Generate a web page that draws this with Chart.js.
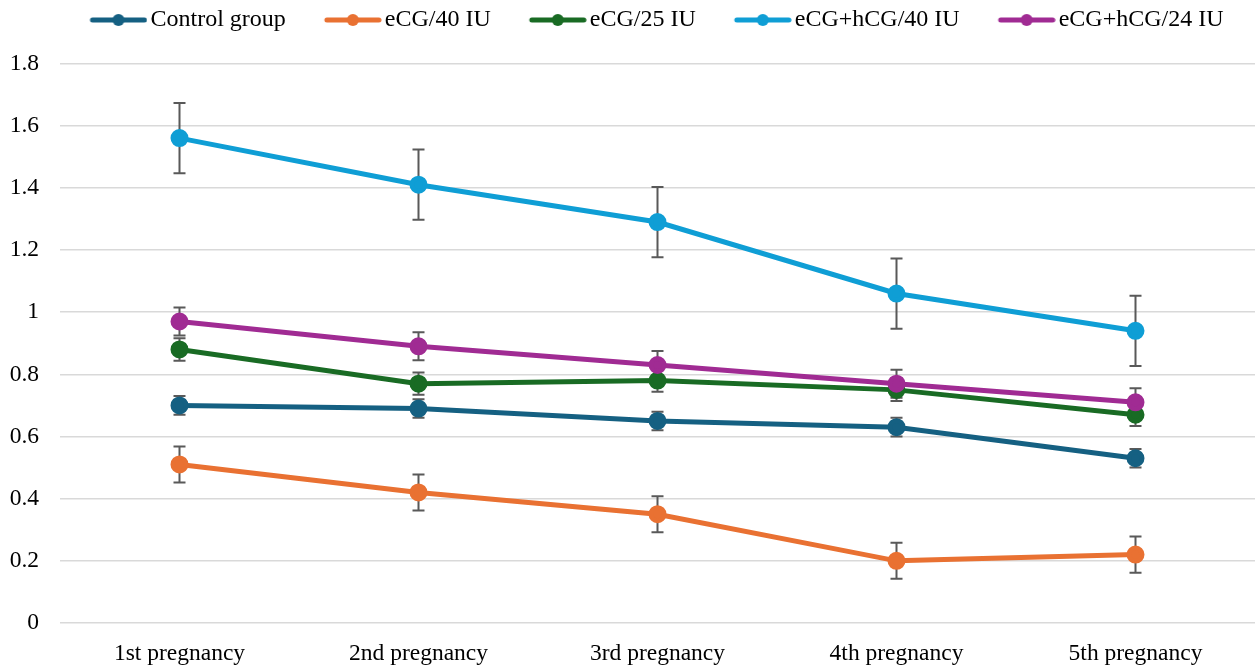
<!DOCTYPE html>
<html>
<head>
<meta charset="utf-8">
<script src="https://cdn.jsdelivr.net/npm/chart.js@4.4.1/dist/chart.umd.min.js"></script>
<style>
	html, body { margin: 0; padding: 0; background: #fff; }
	#box { width: 1255px; height: 668px; }
</style>
</head>
<body>
<div id="box"><canvas id="graficoGestacoes"></canvas></div>
<script>
var gestacoes = ['1st pregnancy', '2nd pregnancy', '3rd pregnancy', '4th pregnancy', '5th pregnancy'];

var grupos = ['Control group', 'eCG/40 IU', 'eCG/25 IU', 'eCG+hCG/40 IU', 'eCG+hCG/24 IU'];

var controle = [0.70, 0.69, 0.65, 0.63, 0.53];
var ecg40 = [0.51, 0.42, 0.35, 0.20, 0.22];
var ecg25 = [0.88, 0.77, 0.78, 0.75, 0.67];
var ecgHcg40 = [1.56, 1.41, 1.29, 1.06, 0.94];
var ecgHcg24 = [0.97, 0.89, 0.83, 0.77, 0.71];

var erroControle = [0.03, 0.03, 0.03, 0.03, 0.03];
var erroEcg40 = [0.058, 0.058, 0.058, 0.058, 0.058];
var erroEcg25 = [0.036, 0.036, 0.036, 0.036, 0.036];
var erroEcgHcg40 = [0.113, 0.113, 0.113, 0.113, 0.113];
var erroEcgHcg24 = [0.045, 0.045, 0.045, 0.045, 0.045];

var cores = ['#156082', '#E97132', '#196B24', '#0F9ED5', '#A02B93'];
var fonte = "'Liberation Serif', 'Times New Roman', serif";
var tamanho = 23.5;
var tamanhoLegenda = 24;

// largura reservada para o marcador e largura da imagem (parte esquerda transparente)
var larguraMarcador = 77;
var larguraImagem = 95;

// marcador da legenda: linha com bolinha no meio, encostado na direita
function marcador(cor) {
	var c = document.createElement('canvas');
	c.width = larguraImagem;
	c.height = 14;
	var g = c.getContext('2d');
	var fim = larguraImagem - 3;
	var inicio = fim - 52;
	g.strokeStyle = cor;
	g.lineWidth = 5;
	g.lineCap = 'round';
	g.beginPath();
	g.moveTo(inicio, 7);
	g.lineTo(fim, 7);
	g.stroke();
	g.fillStyle = cor;
	g.beginPath();
	g.arc((inicio + fim) / 2, 7, 6, 0, Math.PI * 2);
	g.fill();
	return c;
}

var barrasDeErro = {
	id: 'barrasDeErro',
	beforeDatasetsDraw: function(chart) {
		var ctx = chart.ctx;
		var y = chart.scales.y;
		ctx.save();
		ctx.strokeStyle = '#595959';
		ctx.lineWidth = 2;
		chart.data.datasets.forEach(function(ds, i) {
			var meta = chart.getDatasetMeta(i);
			meta.data.forEach(function(pt, j) {
				var e = ds.erro[j];
				var topo = y.getPixelForValue(ds.data[j] + e);
				var base = y.getPixelForValue(ds.data[j] - e);
				ctx.beginPath();
				ctx.moveTo(pt.x, topo);
				ctx.lineTo(pt.x, base);
				ctx.moveTo(pt.x - 6, topo);
				ctx.lineTo(pt.x + 6, topo);
				ctx.moveTo(pt.x - 6, base);
				ctx.lineTo(pt.x + 6, base);
				ctx.stroke();
			});
		});
		ctx.restore();
	}
};

// espaco extra entre a legenda e a area do grafico
var espacoLegenda = {
	id: 'espacoLegenda',
	beforeInit: function(chart) {
		var fitOriginal = chart.legend.fit;
		chart.legend.fit = function() {
			fitOriginal.call(this);
			this.height += 21.5;
		};
	},
	afterLayout: function(chart) {
		chart.legend.left += 30;
	}
};

var series = [controle, ecg40, ecg25, ecgHcg40, ecgHcg24];
var erros = [erroControle, erroEcg40, erroEcg25, erroEcgHcg40, erroEcgHcg24];

var datasets = series.map(function(valores, i) {
	return {
		label: grupos[i],
		data: valores,
		erro: erros[i],
		borderColor: cores[i],
		backgroundColor: cores[i],
		pointBackgroundColor: cores[i],
		pointBorderColor: cores[i],
		pointRadius: 6.5,
		pointHoverRadius: 6.5,
		borderWidth: 5,
		tension: 0,
		order: 10 - i
	};
});

var ctx = document.getElementById('graficoGestacoes').getContext('2d');

var grafico = new Chart(ctx, {
	type: 'line',
	data: {
		labels: gestacoes,
		datasets: datasets
	},
	plugins: [barrasDeErro, espacoLegenda],
	options: {
		responsive: true,
		maintainAspectRatio: false,
		animation: false,
		layout: { autoPadding: false, padding: { left: 0, right: 0, top: -2, bottom: 0 } },
		plugins: {
			tooltip: { enabled: false },
			legend: {
				position: 'top',
				labels: {
					usePointStyle: true,
					pointStyleWidth: larguraMarcador,
					padding: 10,
					color: '#000',
					font: { family: fonte, size: tamanhoLegenda },
					generateLabels: function(chart) {
						return chart.data.datasets.map(function(ds, i) {
							return {
								text: ds.label,
								pointStyle: marcador(cores[i]),
								fillStyle: cores[i],
								strokeStyle: cores[i],
								lineWidth: 0,
								datasetIndex: i,
								fontColor: '#000'
							};
						});
					}
				}
			}
		},
		scales: {
			x: {
				offset: true,
				afterFit: function(scale) {
					scale.height = 45;
					scale.paddingLeft = 0;
					scale.paddingRight = 0;
				},
				grid: { display: false },
				border: { display: false },
				ticks: { color: '#000', font: { family: fonte, size: tamanho }, padding: 9, maxRotation: 0 }
			},
			y: {
				min: 0,
				max: 1.8,
				afterFit: function(scale) { scale.width = 60; },
				grid: { color: '#d9d9d9', lineWidth: 1.5, drawTicks: false },
				border: { display: false },
				ticks: {
					stepSize: 0.2,
					padding: 21,
					color: '#000',
					font: { family: fonte, size: tamanho },
					callback: function(v) { return Math.round(v * 10) / 10; }
				}
			}
		}
	}
});
</script>
</body>
</html>
